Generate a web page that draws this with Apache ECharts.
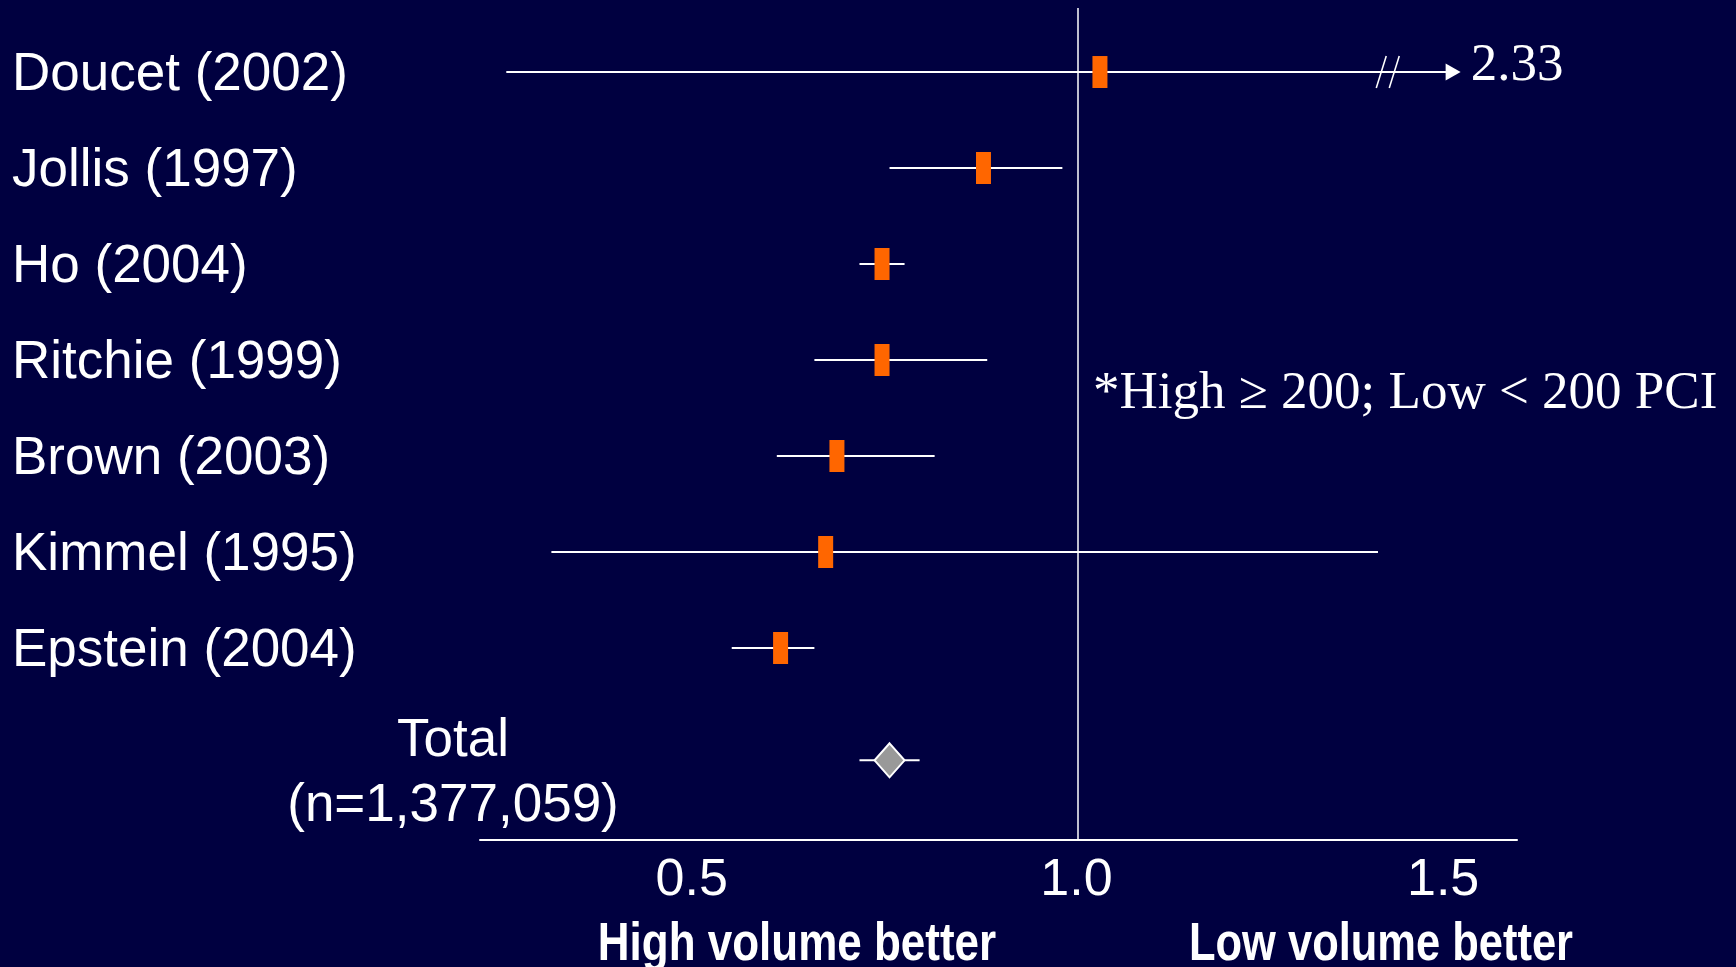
<!DOCTYPE html>
<html>
<head>
<meta charset="utf-8">
<script src="https://cdn.jsdelivr.net/npm/echarts@6/dist/echarts.min.js"></script>
<style>
html,body{margin:0;padding:0;background:#000040;}
#c{width:1736px;height:967px;}
</style>
</head>
<body>
<div id="c"></div>
<script>
// ---- data ----
const studies = ['Doucet (2002)', 'Jollis (1997)', 'Ho (2004)', 'Ritchie (1999)', 'Brown (2003)', 'Kimmel (1995)', 'Epstein (2004)'];
const estimate = [1.03, 0.875, 0.74, 0.74, 0.68, 0.665, 0.605];
const lowerCI  = [0.24, 0.75, 0.71, 0.65, 0.60, 0.30, 0.54];
const upperCI  = [2.33, 0.98, 0.77, 0.88, 0.81, 1.40, 0.65];
const totalLabel = ['Total', '(n=1,377,059)'];
const totalEstimate = [0.75];
const totalLower = [0.71];
const totalUpper = [0.79];
const xTicks = [0.5, 1.0, 1.5];
const axisNotes = ['High volume better', 'Low volume better'];
const footnote = '*High \u2265 200; Low < 200 PCI';

// ---- layout constants ----
const TRUNC_AT = 1.51;     // where an off-scale interval is cut with an arrow
const BREAK_AT = 1.413;    // where the "//" break marks sit
const SUMMARY_ROW = 7.17;  // summary row sits a little below the last study
const SANS = "'Liberation Sans', Arial, sans-serif";
const SERIF = "'Liberation Serif', 'Times New Roman', serif";

const studyData = studies.map((s, i) => [i, lowerCI[i], estimate[i], upperCI[i]]);
const totalData = totalEstimate.map((e, i) => [SUMMARY_ROW, totalLower[i], e, totalUpper[i]]);

function renderStudy(params, api) {
  const row = api.value(0), lo = api.value(1), est = api.value(2), hi = api.value(3);
  const truncated = hi > TRUNC_AT;
  const pLo = api.coord([lo, row]);
  const pEst = api.coord([est, row]);
  const pHi = api.coord([truncated ? TRUNC_AT : hi, row]);
  const y = pEst[1];
  const children = [{
    type: 'line',
    shape: { x1: pLo[0], y1: y, x2: truncated ? pHi[0] - 12 : pHi[0], y2: y },
    style: { stroke: '#ffffff', lineWidth: 2 }
  }];
  if (truncated) {
    children.push({
      type: 'polygon',
      shape: { points: [[pHi[0] - 15, y - 8.5], [pHi[0], y], [pHi[0] - 15, y + 8.5]] },
      style: { fill: '#ffffff' }
    });
    const bx = api.coord([BREAK_AT, row])[0];
    [-6.5, 6.5].forEach(d => {
      children.push({
        type: 'line',
        shape: { x1: bx + d - 5, y1: y + 16, x2: bx + d + 5, y2: y - 16 },
        style: { stroke: '#ffffff', lineWidth: 1.6 }
      });
    });
    children.push({
      type: 'text',
      x: pHi[0] + 10, y: y - 6,
      style: { text: String(hi), fill: '#ffffff', fontSize: 53, fontFamily: SERIF, align: 'left', verticalAlign: 'middle' }
    });
  }
  children.push({
    type: 'rect',
    shape: { x: pEst[0] - 7.5, y: y - 16, width: 15, height: 32 },
    style: { fill: '#FF6600' }
  });
  return { type: 'group', children: children };
}

function renderTotal(params, api) {
  const row = api.value(0), lo = api.value(1), est = api.value(2), hi = api.value(3);
  const pLo = api.coord([lo, row]);
  const pEst = api.coord([est, row]);
  const pHi = api.coord([hi, row]);
  const y = pEst[1];
  const cs = params.coordSys;
  return {
    type: 'group',
    children: [
      { type: 'line', shape: { x1: pLo[0], y1: y, x2: pHi[0], y2: y }, style: { stroke: '#ffffff', lineWidth: 2 } },
      { type: 'polygon',
        shape: { points: [[pEst[0], y - 17], [pEst[0] + 15, y], [pEst[0], y + 17], [pEst[0] - 15, y]] },
        style: { fill: '#999999', stroke: '#ffffff', lineWidth: 2 } },
      { type: 'text', x: cs.x - 27, y: y + 14,
        style: { text: totalLabel.join('\n'), fill: '#ffffff', fontSize: 53, fontFamily: SANS,
                 align: 'center', verticalAlign: 'middle', lineHeight: 65 } }
    ]
  };
}

const chart = echarts.init(document.getElementById('c'), null, { renderer: 'canvas' });
chart.setOption({
  backgroundColor: '#000040',
  animation: false,
  grid: { left: 480, right: 219, top: 8, bottom: 127, containLabel: false },
  xAxis: {
    type: 'value', min: 0.205, max: 1.585,
    axisLine: { show: true, onZero: false, lineStyle: { color: '#ffffff', width: 2 } },
    axisTick: { show: false },
    splitLine: { show: false },
    axisLabel: {
      customValues: xTicks,
      formatter: v => (Math.abs(v - 1) < 1e-9 ? '{mid|' : '{side|') + Number(v).toFixed(1) + '}',
      color: '#ffffff', fontFamily: SANS, fontSize: 52, lineHeight: 52, margin: 15,
      rich: {
        side: { color: '#ffffff', fontFamily: SANS, fontSize: 52, lineHeight: 52, padding: [0, 20, 0, 0] },
        mid: { color: '#ffffff', fontFamily: SANS, fontSize: 52, lineHeight: 52, padding: [0, 2, 0, 0] }
      }
    }
  },
  yAxis: {
    type: 'value', inverse: true, min: -0.667, max: 8,
    axisLine: { show: false }, axisTick: { show: false }, splitLine: { show: false },
    axisLabel: {
      customValues: studies.map((s, i) => i),
      formatter: v => '{n|' + (studies[Math.round(v)] || '') + '}',
      color: '#ffffff', fontFamily: SANS, fontSize: 53, align: 'left', margin: 468,
      rich: {
        n: { color: '#ffffff', fontFamily: SANS, fontSize: 53, lineHeight: 56, padding: [7, 0, 0, 0] }
      }
    }
  },
  series: [
    {
      type: 'custom', name: 'studies', coordinateSystem: 'cartesian2d', clip: false,
      encode: { x: [1, 2, 3], y: 0 },
      data: studyData, renderItem: renderStudy, z: 3,
      markLine: {
        silent: true, symbol: ['none', 'none'], label: { show: false },
        lineStyle: { color: '#ffffff', width: 1.5, type: 'solid' },
        data: [{ xAxis: 1.0 }], z: 1
      }
    },
    {
      type: 'custom', name: 'total', coordinateSystem: 'cartesian2d', clip: false,
      encode: { x: [1, 2, 3], y: 0 },
      data: totalData, renderItem: renderTotal, z: 3
    }
  ],
  graphic: [
    { type: 'text', x: 797, y: 945, scaleX: 0.83,
      style: { text: axisNotes[0], fill: '#ffffff', fontSize: 53, fontWeight: 'bold', fontFamily: SANS, align: 'center', verticalAlign: 'middle' } },
    { type: 'text', x: 1381, y: 945, scaleX: 0.82,
      style: { text: axisNotes[1], fill: '#ffffff', fontSize: 53, fontWeight: 'bold', fontFamily: SANS, align: 'center', verticalAlign: 'middle' } },
    { type: 'text', x: 1093, y: 394,
      style: { text: footnote, fill: '#ffffff', fontSize: 53, fontFamily: SERIF, align: 'left', verticalAlign: 'middle' } }
  ]
});
</script>
</body>
</html>
